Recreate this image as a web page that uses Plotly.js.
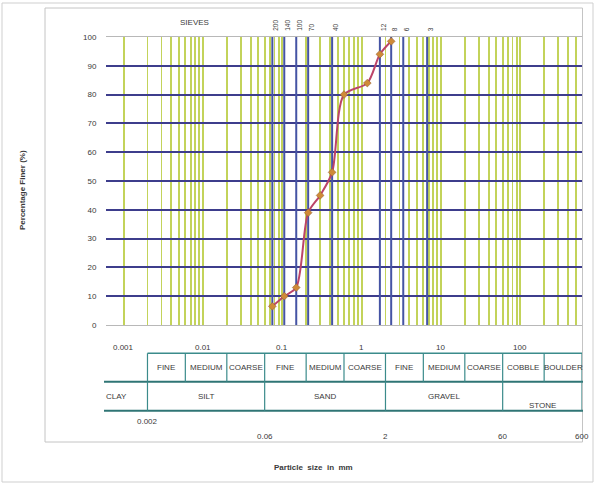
<!DOCTYPE html>
<html><head><meta charset="utf-8">
<script src="https://cdn.plot.ly/plotly-3.0.1.min.js"></script>
<style>html,body{margin:0;padding:0;background:#fff}#chart{width:596px;height:484px}</style>
</head><body><div id="chart"></div>
<script>
// ---- data ----
const grainSize = [0.075, 0.106, 0.15, 0.212, 0.3, 0.425, 0.6, 1.18, 1.7, 2.36];
const percentFiner = [6.5, 10, 13, 39, 45, 53, 80, 84, 94, 98.5];
const sieveSizes = [0.075, 0.106, 0.15, 0.212, 0.425, 1.7, 2.36, 3.35, 6.7];
const sieveNames = ['200', '140', '100', '70', '40', '12', '8', '6', '3'];
const yTicks = [0, 10, 20, 30, 40, 50, 60, 70, 80, 90, 100];
const scaleValues = [0.001, 0.01, 0.1, 1, 10, 100];
const scaleLabels = ['0.001', '0.01', '0.1', '1', '10', '100'];
const bandEdges = [0.002, 0.006, 0.02, 0.06, 0.2, 0.6, 2, 6, 20, 60, 200, 600];
const bandNames = ['FINE', 'MEDIUM', 'COARSE', 'FINE', 'MEDIUM', 'COARSE', 'FINE', 'MEDIUM', 'COARSE', 'COBBLE', 'BOULDER'];
const groupEdges = [0.002, 0.06, 2, 60, 600];
const groupNames = ['SILT', 'SAND', 'GRAVEL', 'STONE'];
const boundaryLabels = ['0.002', '0.06', '2', '60', '600'];
const xMin = 0.0006, xMax = 600;

// ---- helpers ----
const FONT = 'Liberation Sans Narrow, Liberation Sans, Arial, sans-serif';
const TXT = '#3a3a3a';
const py = p => (325 - p) / 288;      // pixel y -> paper y
const pxp = p => (p - 106) / 476;     // pixel x -> paper x
const L = Math.log10;

// minor grid values 1..9 x decade
const gridVals = [];
for (let e = -3; e <= 2; e++) for (let m = 1; m <= 9; m++) { const v = m * Math.pow(10, e); if (v <= xMax * 1.0001) gridVals.push(v); }

// sieve vertical lines as a trace
const sx = [], sy = [];
sieveSizes.forEach(s => { sx.push(s, s, null); sy.push(0, 100, null); });

const traces = [
  {x: sx, y: sy, mode: 'lines', line: {color: '#4554a4', width: 2}, hoverinfo: 'skip', showlegend: false},
  {x: grainSize, y: percentFiner, mode: 'lines+markers',
   line: {color: '#bc4468', width: 2, shape: 'spline', smoothing: 0.8},
   marker: {symbol: 'diamond', size: 6, color: '#cf8a38', line: {color: '#8a5a30', width: 0.5}},
   showlegend: false}
];

const shapes = [];
const teal = '#3b8b8b';
// outer and inner frames
shapes.push({type: 'rect', xref: 'paper', yref: 'paper', x0: pxp(2), x1: pxp(593), y0: py(482), y1: py(3), line: {color: '#cfcfcf', width: 1}});
shapes.push({type: 'rect', xref: 'paper', yref: 'paper', x0: pxp(45), x1: pxp(582.5), y0: py(442), y1: py(8), line: {color: '#c4c4c4', width: 1}});
// table horizontal lines
shapes.push({type: 'line', xref: 'x', yref: 'paper', x0: bandEdges[0], x1: xMax, y0: py(353.3), y1: py(353.3), line: {color: teal, width: 1.5}});
shapes.push({type: 'line', xref: 'paper', yref: 'paper', x0: pxp(104), x1: 1.002, y0: py(381.7), y1: py(381.7), line: {color: '#2f7575', width: 2}});
shapes.push({type: 'line', xref: 'paper', yref: 'paper', x0: pxp(104), x1: 1.002, y0: py(410.7), y1: py(410.7), line: {color: '#2f7575', width: 2}});
// table vertical lines
bandEdges.forEach(v => shapes.push({type: 'line', xref: 'x', yref: 'paper', x0: v, x1: v, y0: py(381.7), y1: py(353.3), line: {color: teal, width: 1.2}}));
groupEdges.forEach(v => shapes.push({type: 'line', xref: 'x', yref: 'paper', x0: v, x1: v, y0: py(410.7), y1: py(381.7), line: {color: teal, width: 1.2}}));

const annotations = [];
const ann = (o) => annotations.push(Object.assign({showarrow: false, xanchor: 'center', yanchor: 'middle', font: {family: FONT, size: 8, color: TXT}}, o));
// scale labels above table
scaleValues.forEach((v, i) => ann({xref: 'x', yref: 'paper', x: L(v), y: py(347), text: scaleLabels[i]}));
// band names
bandNames.forEach((n, i) => ann({xref: 'x', yref: 'paper', x: (L(bandEdges[i]) + L(bandEdges[i + 1])) / 2, y: py(367.5), text: n, font: {family: FONT, size: 8, color: TXT}}));
// group names
ann({xref: 'paper', yref: 'paper', x: pxp(104), xanchor: 'left', y: py(396), text: 'CLAY'});
groupNames.forEach((n, i) => {
  const yy = n === 'STONE' ? py(405) : py(396);
  ann({xref: 'x', yref: 'paper', x: (L(groupEdges[i]) + L(groupEdges[i + 1])) / 2, y: yy, text: n});
});
// boundary labels
boundaryLabels.forEach((t, i) => ann({xref: 'x', yref: 'paper', x: L(groupEdges[i]), y: i === 0 ? py(421) : py(436), text: t}));
// sieve labels
sieveSizes.forEach((s, i) => ann({xref: 'x', yref: 'paper', x: L(s), xshift: 3, y: py(33), yanchor: 'bottom', textangle: -90, text: sieveNames[i], font: {family: FONT, size: 6.5, color: TXT}}));
ann({xref: 'paper', yref: 'paper', x: pxp(194), y: py(22), text: 'SIEVES'});
// axis titles
ann({xref: 'paper', yref: 'paper', x: pxp(22), y: py(190), textangle: -90, text: '<b>Percentage Finer (%)</b>'});
ann({xref: 'paper', yref: 'paper', x: pxp(313), y: py(467), text: '<b>Particle  size  in  mm</b>'});

const layout = {
  width: 596, height: 484,
  margin: {l: 106, r: 14, t: 37, b: 159, pad: 0},
  paper_bgcolor: '#fff', plot_bgcolor: '#fff',
  showlegend: false,
  xaxis: {type: 'log', range: [L(xMin), L(xMax)], tickmode: 'array', tickvals: gridVals,
          showticklabels: false, ticks: '', showgrid: true, gridcolor: '#c3d35a', gridwidth: 1.8,
          zeroline: false, showline: true, mirror: true, linecolor: '#b8b8b8', linewidth: 1, fixedrange: true},
  yaxis: {range: [0, 100], tickmode: 'array', tickvals: yTicks, ticktext: yTicks.map(String),
          showgrid: true, gridcolor: '#3d3d8c', gridwidth: 2, zeroline: true, zerolinecolor: '#3d3d8c', zerolinewidth: 2.5,
          ticks: 'outside', ticklen: 7, tickcolor: 'rgba(0,0,0,0)', showline: false,
          tickfont: {family: FONT, size: 8, color: TXT}, fixedrange: true},
  shapes: shapes,
  annotations: annotations
};

Plotly.newPlot('chart', traces, layout, {displayModeBar: false, staticPlot: true});
</script></body></html>
